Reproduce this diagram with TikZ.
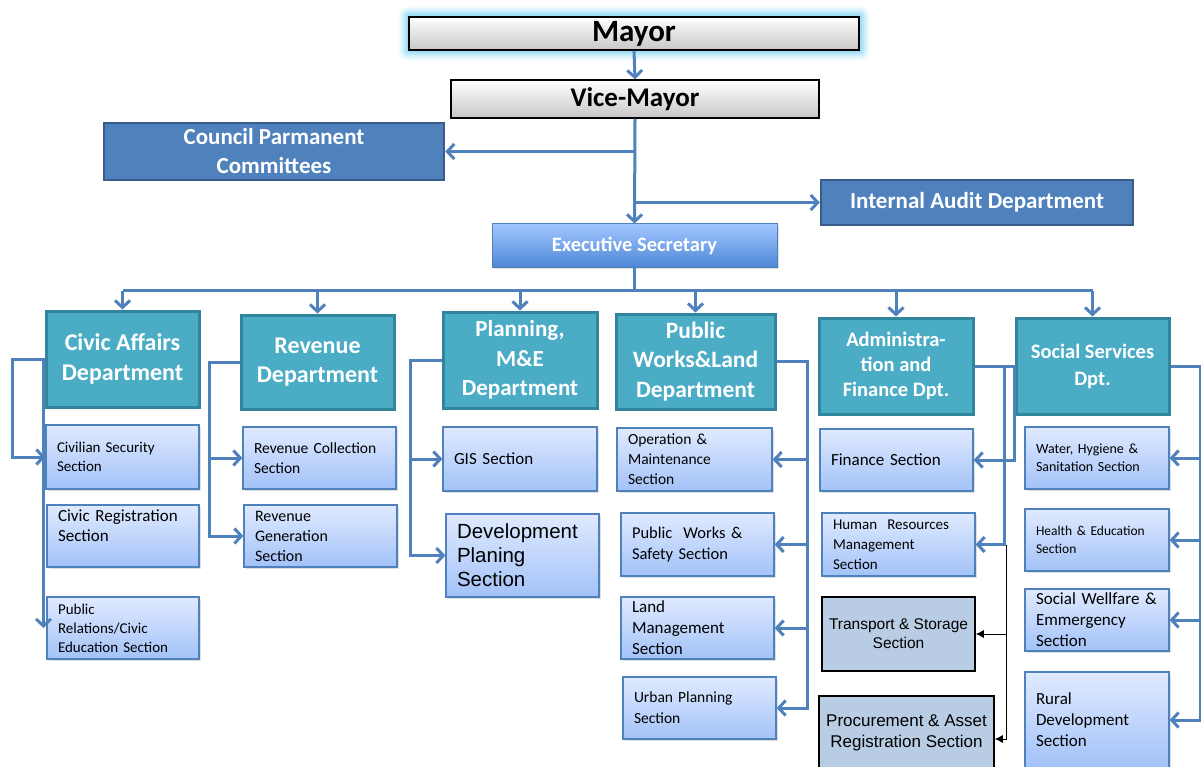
\documentclass[tikz,border=0pt]{standalone}
\usepackage{fontspec}
\setmainfont{Carlito}
\newfontfamily\arialf{Liberation Sans}
\usetikzlibrary{arrows.meta,shadows,backgrounds,calc}
\definecolor{conblue}{RGB}{79,129,189}
\definecolor{deptfill}{RGB}{75,172,198}
\definecolor{deptdraw}{RGB}{49,133,156}
\definecolor{councilfill}{RGB}{79,129,189}
\definecolor{councildraw}{RGB}{56,93,138}
\definecolor{sectop}{RGB}{224,234,255}
\definecolor{secbot}{RGB}{162,194,248}
\definecolor{secdraw}{RGB}{79,129,189}
\definecolor{grayfill}{RGB}{184,204,228}
\definecolor{exectop}{RGB}{162,198,255}
\definecolor{execbot}{RGB}{78,135,214}
\newcommand\fs[2]{\fontsize{#1}{#2}\selectfont}
\tikzset{
  topbox/.style={draw=black, line width=1.5pt, top color=white, bottom color=black!22, inner sep=0pt, font=\bfseries},
  bluebox/.style={draw=councildraw, line width=2.5pt, fill=councilfill, text=white, inner sep=0pt, align=center, font=\bfseries},
  execbox/.style={draw=conblue, line width=1pt, top color=exectop, bottom color=execbot, text=white, inner sep=0pt, font=\bfseries\fs{20.5}{24}, drop shadow={shadow xshift=2pt, shadow yshift=-2pt, opacity=.25}},
  dept/.style={draw=deptdraw, line width=3pt, fill=deptfill, text=white, inner sep=0pt, align=center, font=\bfseries\fs{24}{29.5}},
  sec/.style={draw=secdraw, line width=1.2pt, top color=sectop, bottom color=secbot, align=left, inner xsep=11pt, inner ysep=0pt, drop shadow={shadow xshift=2pt, shadow yshift=-2pt, opacity=.25}},
  graybox/.style={draw=black, line width=1.5pt, fill=grayfill, align=center, inner sep=0pt, font=\arialf},
  conn/.style={draw=conblue, line width=3pt, -{Straight Barb[length=7pt,width=15pt]}},
  line/.style={draw=conblue, line width=3pt},
  blk/.style={draw=black, line width=1pt, -{Latex[length=8pt,width=8pt]}}
}
\begin{document}
\begin{tikzpicture}[x=1pt,y=-1pt]
\useasboundingbox (0,0) rectangle (1201,767);
\clip (0,0) rectangle (1201,767);
% top
\node[topbox, minimum width=450pt, minimum height=33pt, font=\bfseries\fs{31}{33}] (mayor) at (634,33.5) {Mayor};
\begin{scope}[on background layer]
\fill[white] (0,0) rectangle (1201,767);
\foreach \g/\o in {10/0.08,8/0.12,6/0.16,4/0.22,2/0.3} {
  \fill[cyan!60!white, opacity=\o, rounded corners=\g pt] ($(mayor.south west)+(-\g,\g)$) rectangle ($(mayor.north east)+(\g,-\g)$);
}
\end{scope}
\node[topbox, minimum width=368pt, minimum height=38pt, font=\bfseries\fs{27}{30}] (vice) at (635,99) {Vice-Mayor};
\node[bluebox, minimum width=340pt, minimum height=57pt, font=\bfseries\fs{23}{29}] (council) at (274,151.5) {Council Parmanent\\Committees};
\node[bluebox, minimum width=312pt, minimum height=45pt, font=\bfseries\fs{23}{27}] (audit) at (977,202.5) {Internal Audit Department};
\node[execbox, minimum width=285pt, minimum height=43pt] (exec) at (634.5,245.5) {Executive Secretary};
% departments
\node[dept, minimum width=153pt, minimum height=96pt] (civic) at (122.5,359) {Civic Affairs\\Department};
\node[dept, minimum width=153pt, minimum height=94pt] (rev) at (317.5,362) {Revenue\\Department};
\node[dept, minimum width=154pt, minimum height=96pt, font=\bfseries\fs{23}{29.5}] (plan) at (520,360) {Planning,\\M\&E\\Department};
\node[dept, minimum width=159pt, minimum height=95pt, font=\bfseries\fs{23.5}{29.5}] (pw) at (695.5,361.5) {Public\\Works\&Land\\Department};
\node[dept, minimum width=154pt, minimum height=96pt, font=\bfseries\fs{20.5}{25}] (adm) at (896,366) {Administra-\\tion and\\Finance Dpt.};
\node[dept, minimum width=153pt, minimum height=96pt, font=\bfseries\fs{20.5}{27}] (soc) at (1092.5,366) {Social Services\\Dpt.};
% civic sections
\node[sec, minimum width=153pt, minimum height=64pt, text width=131pt, font=\fs{15}{19}] (civsec) at (122.5,457) {Civilian Security\\Section};
\node[sec, minimum width=152pt, minimum height=62pt, text width=130pt, font=\fs{17}{20}] (civreg) at (123,536) {Civic Registration\\Section\\\mbox{}};
\node[sec, minimum width=152pt, minimum height=62pt, text width=130pt, font=\fs{15}{19}] (pubrel) at (123,628) {Public\\Relations/Civic\\Education Section};
% revenue sections
\node[sec, minimum width=153pt, minimum height=62pt, text width=131pt, font=\fs{15.5}{20}] (revcol) at (319.5,458) {Revenue Collection\\Section};
\node[sec, minimum width=153pt, minimum height=62pt, text width=131pt, font=\fs{16}{20}] (revgen) at (320.5,536) {Revenue\\Generation\\Section};
% planning sections
\node[sec, minimum width=154pt, minimum height=64pt, text width=132pt, font=\fs{17}{20}] (gis) at (520,459) {GIS Section};
\node[sec, minimum width=153pt, minimum height=83pt, text width=131pt, font=\arialf\fs{20.5}{24}] (dev) at (522.5,555.5) {Development\\Planing\\Section};
% public works sections
\node[sec, minimum width=155pt, minimum height=63pt, text width=133pt, font=\fs{15.5}{20}] (opm) at (694.5,459.5) {Operation \&\\Maintenance\\Section};
\node[sec, minimum width=153pt, minimum height=63pt, text width=131pt, font=\fs{16.5}{21}] (pws) at (697.5,544.5) {Public\ \ Works \&\\Safety Section};
\node[sec, minimum width=153pt, minimum height=62pt, text width=131pt, font=\fs{17}{21}] (land) at (697.5,628) {Land\\Management\\Section};
\node[sec, minimum width=153pt, minimum height=62pt, text width=131pt, font=\fs{15.5}{21}] (urb) at (699.5,708) {Urban Planning\\Section};
% admin sections
\node[sec, minimum width=153pt, minimum height=62pt, text width=131pt, font=\fs{17}{20}] (fin) at (896.5,460) {Finance Section};
\node[sec, minimum width=153pt, minimum height=63pt, text width=131pt, font=\fs{15}{20}] (hr) at (898.5,544.5) {Human\ \ Resources\\Management\\Section};
\node[graybox, minimum width=153pt, minimum height=74pt, font=\arialf\fs{15.5}{19}] (trans) at (898.5,634) {Transport \& Storage\\Section};
\node[graybox, minimum width=175pt, minimum height=74pt, font=\arialf\fs{17}{21}] (proc) at (906.5,733) {Procurement \& Asset\\Registration Section};
% social sections
\node[sec, minimum width=144pt, minimum height=62pt, text width=122pt, font=\fs{14}{18}] (wat) at (1097,458) {Water, Hygiene \&\\Sanitation Section};
\node[sec, minimum width=144pt, minimum height=62pt, text width=122pt, font=\fs{13.5}{18}] (hea) at (1097,540) {Health \& Education\\Section};
\node[sec, minimum width=144pt, minimum height=62pt, text width=122pt, font=\fs{17}{21}] (swe) at (1097,620) {Social Wellfare \&\\Emmergency\\Section};
\node[sec, minimum width=144pt, minimum height=96pt, text width=122pt, font=\fs{17}{21}] (rur) at (1097,720) {Rural\\Development\\Section};
% top connectors
\draw[conn] (mayor.south) -- (vice.north);
\draw[conn] (vice.south) -- (exec.north);
\draw[conn] (vice.south |- council.east) -- (council.east);
\draw[conn] (vice.south |- audit.west) -- (audit.west);
% executive bus
\draw[line] (exec.south) -- ++(0,23) coordinate (bus);
\draw[line] (civic.north |- bus) -- (soc.north |- bus);
\foreach \d in {civic,rev,plan,pw,adm,soc} { \draw[conn] (\d.north |- bus) -- (\d.north); }
% civic
\draw[conn] (civic.west) -- ++(-32,0) |- (civsec.west);
\draw[conn] ([xshift=-1pt]civic.west) -- ([xshift=-1pt]civic.west |- pubrel.west);
% revenue
\draw[conn] (rev.west) -- ++(-30,0) coordinate (rb) |- (revgen.west);
\draw[conn] (rb |- revcol.west) -- (revcol.west);
% planning
\draw[conn] (plan.west) -- ++(-31,0) coordinate (pb) |- (dev.west);
\draw[conn] (pb |- gis.west) -- (gis.west);
% public works
\draw[conn] (pw.east) -- ++(31,0) coordinate (wb) |- (urb.east);
\foreach \s in {opm,pws,land} { \draw[conn] (wb |- \s.east) -- (\s.east); }
% admin
\draw[conn] (adm.east) -- (adm.east -| soc.west) |- (fin.east);
\draw[conn] (adm.east) -- ++(30,0) |- (hr.east);
\coordinate (bk) at (1006,545);
\draw[blk] (bk) |- (trans.east);
\draw[blk] (bk) |- ([yshift=-6pt]proc.east);
% social
\draw[conn] (soc.east) -- ++(30,0) coordinate (sb) |- (rur.east);
\foreach \s in {wat,hea,swe} { \draw[conn] (sb |- \s.east) -- (\s.east); }
\end{tikzpicture}
\end{document}
